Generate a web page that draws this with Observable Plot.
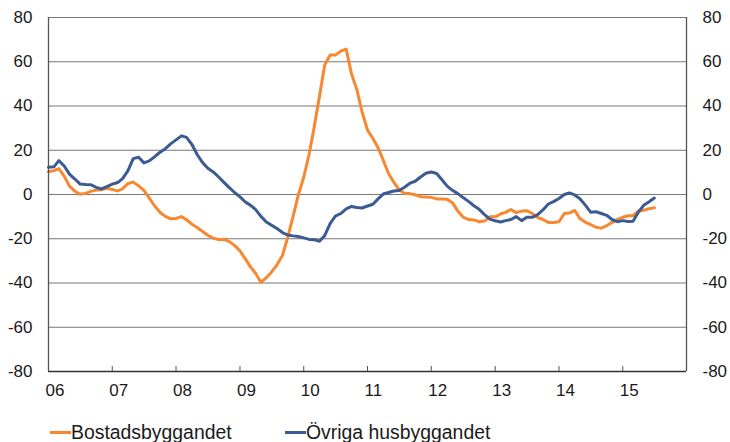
<!DOCTYPE html>
<html><head><meta charset="utf-8">
<script src="https://cdn.jsdelivr.net/npm/d3@7"></script>
<script src="https://cdn.jsdelivr.net/npm/@observablehq/plot@0.6"></script>
<style>
body{margin:0;background:#fff;font-family:"Liberation Sans",Arial,sans-serif;}
#chart svg{display:block;}
#legend{position:relative;width:730px;height:40px;font-size:19.4px;color:#1a1a1a;}
.item{position:absolute;top:19px;height:22px;line-height:22px;white-space:nowrap;}
.sw{position:absolute;top:10px;width:21px;height:3px;}
.lab{position:absolute;left:21px;top:0;}
</style></head><body><div id="chart"></div><div id="legend"></div>
<script>
const seriesNames = ["Bostadsbyggandet", "Övriga husbyggandet"];
const seriesColors = ["#f7882f", "#3b5b92"];
// monthly values, Jan 2006 – Jul 2015
const bostad = [
10.3,10.8,11.7,8.3,3.8,1.5,0.1,0.5,1.4,2,2.2,2.8,
2.3,1.6,2.6,5,5.6,3.9,1.9,-1.6,-5.2,-8,-9.9,-11,
-10.8,-10,-11.4,-13.4,-14.9,-16.7,-18.4,-19.7,-20.4,-20.2,-21.3,-23,
-25.5,-29.1,-32.6,-35.7,-39.7,-37.6,-35,-31.8,-27.6,-19.5,-9.9,-0.2,
7.8,18.3,30.1,44.3,58.5,63,63,64.8,65.7,54.6,47.4,37.3,
29.1,25.3,21.4,15.6,9.5,5.5,2.1,0.5,0.4,-0.1,-1,-1.1,
-1.3,-2,-2,-2.2,-3.7,-7.5,-10.2,-11.3,-11.5,-12.3,-12,-10.1,
-10.1,-8.8,-8.1,-6.8,-8.2,-7.5,-7.3,-8.6,-10.4,-11.3,-12.6,-12.7,
-12.3,-8.6,-8.4,-7.2,-10.9,-12.5,-13.6,-14.8,-15.2,-14.1,-12.6,-11.3,
-10.3,-9.6,-9.6,-7.5,-7.1,-6.4,-6
];
const ovriga = [
12.3,12.5,15.3,12.9,9.2,7,4.7,4.5,4.4,3.2,2.5,3.6,
4.7,5.4,7.2,10.8,16.2,16.8,14.3,15.2,17.1,19.1,20.7,22.9,
24.7,26.5,25.8,22.6,18.1,14.4,11.9,10.2,7.9,5.5,3.1,0.9,
-1.1,-3.4,-4.8,-6.8,-9.9,-12.4,-13.9,-15.4,-17.2,-18.3,-18.7,-19,
-19.6,-20.3,-20.4,-21.1,-18.6,-13.2,-9.8,-8.6,-6.5,-5.4,-5.9,-6.1,
-5.2,-4.4,-2.1,0.2,0.9,1.6,1.8,3.3,5.1,6,7.9,9.6,
10.2,9.5,6.8,3.8,1.9,0.4,-1.4,-3.1,-5.1,-6.7,-9.1,-11.1,
-11.9,-12.4,-11.8,-11.3,-10,-11.8,-10.3,-10.3,-9.1,-7,-4.3,-3.2,
-1.8,0,0.7,-0.2,-1.9,-4.8,-8,-7.8,-8.6,-9.4,-11.3,-12.3,
-11.8,-12.2,-12.1,-7.9,-4.9,-3.3,-1.6
];
const yTicks = [-80,-60,-40,-20,0,20,40,60,80];
const yearLabels = ["06","07","08","09","10","11","12","13","14","15"];

const start = new Date(Date.UTC(2006,0,1));
const end = new Date(Date.UTC(2016,0,1));
const months = d3.utcMonth.range(start, new Date(Date.UTC(2015,7,1)));
const years = d3.utcYear.range(start, end);

const data = [];
months.forEach((m, i) => {
  data.push({date: m, value: bostad[i], series: seriesNames[0]});
  data.push({date: m, value: ovriga[i], series: seriesNames[1]});
});

const plot = Plot.plot({
  width: 730, height: 402,
  marginTop: 17, marginBottom: 31, marginLeft: 48, marginRight: 44,
  style: {fontFamily: '"Liberation Sans", Arial, sans-serif', fontSize: "17px", color: "#1a1a1a", background: "#fff"},
  x: {type: "utc", domain: [start, end], label: null},
  y: {domain: [-80, 80], label: null},
  color: {domain: seriesNames, range: seriesColors},
  marks: [
    Plot.ruleY(yTicks.filter(d => d > -80), {stroke: "#777", strokeWidth: 1}),
    Plot.ruleX(years.slice(1), {x: d => d, y1: -80, y2: -80, insetTop: -5, stroke: "#555", strokeWidth: 1}),
    Plot.line(data, {x: "date", y: "value", z: "series", stroke: "series", strokeWidth: 3}),
    Plot.ruleY([-80], {stroke: "#333", strokeWidth: 1.3}),
    Plot.ruleX([start, end], {stroke: "#555", strokeWidth: 1.3}),
    Plot.axisY({anchor: "left", ticks: yTicks, tickSize: 0, tickPadding: 16, tickFormat: d => String(d)}),
    Plot.axisY({anchor: "right", ticks: yTicks, tickSize: 0, tickPadding: 16, tickFormat: d => String(d)}),
    Plot.axisX({ticks: years, tickSize: 0, tickPadding: 12, textAnchor: "start", dx: -3,
      tickFormat: d => yearLabels[d.getUTCFullYear() - 2006]})
  ]
});
document.getElementById("chart").appendChild(plot);

const legend = document.getElementById("legend");
const legendLeft = [50, 285];
seriesNames.forEach((name, i) => {
  const item = document.createElement("div");
  item.className = "item";
  item.style.left = legendLeft[i] + "px";
  const sw = document.createElement("div");
  sw.className = "sw";
  sw.style.background = seriesColors[i];
  const lab = document.createElement("span");
  lab.className = "lab";
  lab.textContent = name;
  item.appendChild(sw); item.appendChild(lab);
  legend.appendChild(item);
});
</script>
</body></html>
